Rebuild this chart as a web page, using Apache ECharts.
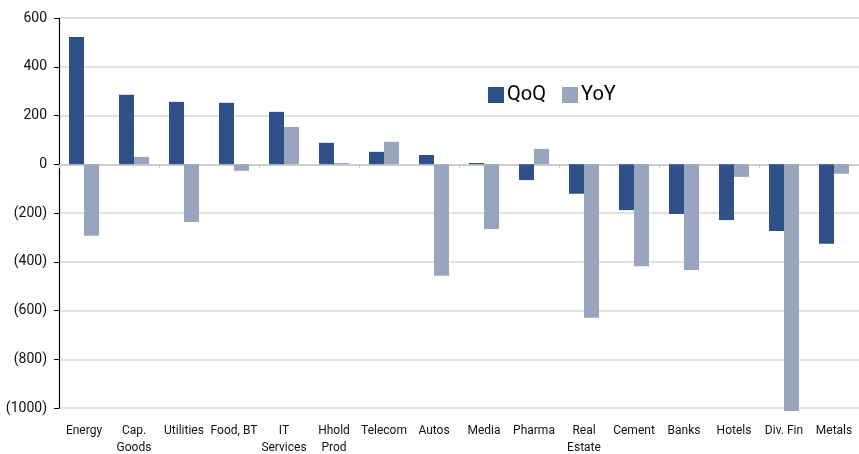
<!DOCTYPE html>
<html>
<head>
<meta charset="utf-8">
<script src="https://cdn.jsdelivr.net/npm/echarts@6/dist/echarts.min.js"></script>
<style>
  html, body { margin: 0; padding: 0; background: #fff; }
  #chart { width: 859px; height: 454px; }
</style>
</head>
<body>
<div id="chart"></div>
<script>
// Sector earnings revisions, quarter-on-quarter and year-on-year
const categories = ['Energy', 'Cap.\nGoods', 'Utilities', 'Food, BT', 'IT\nServices', 'Hhold\nProd',
  'Telecom', 'Autos', 'Media', 'Pharma', 'Real\nEstate', 'Cement', 'Banks', 'Hotels', 'Div. Fin', 'Metals'];
const qoq = [522, 285, 256, 252, 215, 88, 51, 38, 5, -65, -121, -188, -204, -229, -274, -326];
const yoy = [-293, 30, -237, -27, 153, 5, 92, -457, -266, 63, -630, -418, -434, -52, -1012, -39];
const yTicks = { min: -1000, max: 600, interval: 200 };

const fontFamily = 'Roboto, "Liberation Sans", sans-serif';
const colors = { qoq: '#2F5089', yoy: '#97A6BC' };

function fmt(v) {
  return v < 0 ? '(' + Math.abs(v) + ')' : String(v);
}

// one legend block per series so each entry sits at its own spot
function legendItem(name, left) {
  return {
    left: left,
    top: 85,
    padding: 0,
    icon: 'rect',
    itemWidth: 16,
    itemHeight: 16,
    textStyle: { fontSize: 20, color: '#000', fontFamily: fontFamily, padding: [0, 0, 0, -2] },
    data: [name]
  };
}

const chart = echarts.init(document.getElementById('chart'));
chart.setOption({
  animation: false,
  textStyle: { fontFamily: fontFamily },
  legend: [legendItem('QoQ', 488), legendItem('YoY', 562)],
  grid: { left: 59, right: 0, top: 18, bottom: 46, outerBoundsMode: 'none', containLabel: false },
  xAxis: [
    {
      type: 'category',
      data: categories,
      position: 'bottom',
      axisLine: { show: false, onZero: false },
      axisTick: { show: false },
      axisLabel: {
        interval: 0,
        color: '#111',
        fontSize: 12,
        lineHeight: 17,
        margin: 14,
        fontFamily: fontFamily
      }
    },
    {
      type: 'category',
      data: categories,
      position: 'bottom',
      axisLine: { show: true, onZero: true, lineStyle: { color: '#c8c8c8', width: 1.5 } },
      axisTick: { show: true, length: 4, alignWithLabel: false, lineStyle: { color: '#c8c8c8' } },
      axisLabel: { show: false }
    }
  ],
  yAxis: {
    type: 'value',
    min: yTicks.min,
    max: yTicks.max,
    interval: yTicks.interval,
    axisLine: { show: true, lineStyle: { color: '#000', width: 1.2 } },
    axisTick: { show: true, length: 5, inside: false, lineStyle: { color: '#000' } },
    axisLabel: {
      formatter: fmt,
      color: '#111',
      fontSize: 14,
      margin: 12,
      fontFamily: fontFamily
    },
    splitLine: { show: true, lineStyle: { color: '#d9d9d9', width: 1.5 } }
  },
  series: [
    {
      name: 'QoQ',
      type: 'bar',
      xAxisIndex: 0,
      data: qoq,
      barWidth: 15,
      barGap: '0%',
      clip: false,
      itemStyle: { color: colors.qoq }
    },
    {
      name: 'YoY',
      type: 'bar',
      xAxisIndex: 0,
      data: yoy,
      barWidth: 15,
      barGap: '0%',
      clip: false,
      itemStyle: { color: colors.yoy }
    }
  ]
});
</script>
</body>
</html>
